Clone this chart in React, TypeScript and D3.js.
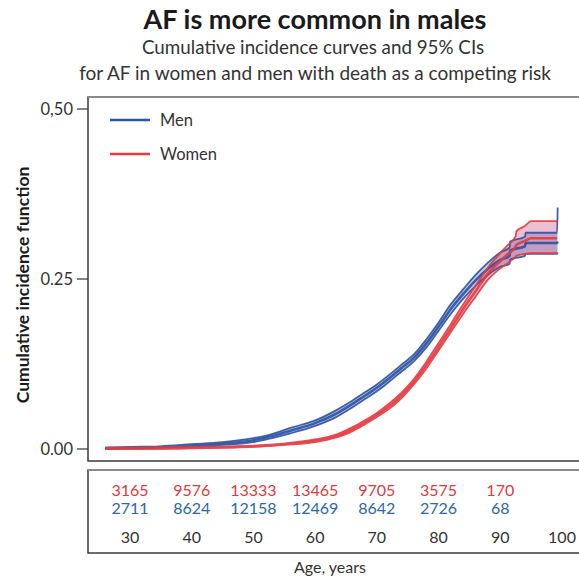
import React from 'react';
import * as d3 from 'd3';

// cumulative incidence, men
const menAge = [26, 30, 35, 40, 45, 50, 53, 56, 60, 63, 66, 68, 70, 72, 74, 76, 78, 80, 82, 84, 86, 88, 90, 91.5, 91.6, 94, 94.1, 99.2, 99.3];
const menCif = [0.001, 0.002, 0.003, 0.005, 0.008, 0.013, 0.019, 0.027, 0.038, 0.05, 0.066, 0.078, 0.09, 0.104, 0.119, 0.134, 0.155, 0.18, 0.206, 0.228, 0.248, 0.265, 0.278, 0.284, 0.292, 0.298, 0.303, 0.303, 0.305];
const menLow = [0.0, 0.001, 0.002, 0.003, 0.006, 0.01, 0.016, 0.023, 0.034, 0.045, 0.061, 0.073, 0.085, 0.099, 0.114, 0.129, 0.149, 0.174, 0.199, 0.221, 0.24, 0.256, 0.268, 0.272, 0.279, 0.284, 0.287, 0.287, 0.289];
const menHigh = [0.002, 0.003, 0.004, 0.007, 0.01, 0.016, 0.022, 0.031, 0.042, 0.055, 0.071, 0.083, 0.095, 0.109, 0.124, 0.139, 0.161, 0.186, 0.213, 0.235, 0.256, 0.274, 0.289, 0.296, 0.305, 0.312, 0.318, 0.318, 0.355];

// cumulative incidence, women
const womenAge = [26, 30, 40, 50, 55, 60, 63, 66, 68, 70, 72, 74, 76, 78, 80, 82, 84, 86, 88, 89.5, 91, 92.5, 92.6, 94, 95, 99.2];
const womenCif = [0.001, 0.001, 0.002, 0.004, 0.007, 0.012, 0.018, 0.029, 0.039, 0.05, 0.063, 0.079, 0.099, 0.123, 0.15, 0.178, 0.206, 0.232, 0.258, 0.272, 0.285, 0.298, 0.3, 0.306, 0.31, 0.31];
const womenLow = [0.0, 0.0, 0.001, 0.003, 0.006, 0.01, 0.016, 0.026, 0.036, 0.047, 0.059, 0.075, 0.095, 0.118, 0.145, 0.172, 0.199, 0.224, 0.249, 0.262, 0.272, 0.283, 0.284, 0.287, 0.288, 0.288];
const womenHigh = [0.002, 0.002, 0.003, 0.005, 0.008, 0.014, 0.02, 0.032, 0.042, 0.053, 0.067, 0.083, 0.103, 0.128, 0.156, 0.184, 0.213, 0.24, 0.267, 0.283, 0.298, 0.313, 0.32, 0.328, 0.335, 0.335];

// numbers at risk
const tableAges = [30, 40, 50, 60, 70, 80, 90, 100];
const womenAtRisk = ['3165', '9576', '13333', '13465', '9705', '3575', '170'];
const menAtRisk = ['2711', '8624', '12158', '12469', '8642', '2726', '68'];

const yTicks = [0, 0.25, 0.5];
const yTickLabels = ['0.00', '0.25', '0,50'];

const BLUE = '#2c52a3';
const RED = '#e63a3e';
const FONT = 'Lato, "Open Sans", sans-serif';

type Pt = { a: number; v: number; lo: number; hi: number };

export default function App() {
  const x = d3.scaleLinear().domain([30, 100]).range([130, 562]);
  const y = d3.scaleLinear().domain([0, 0.5]).range([449, 109]);

  const men: Pt[] = menAge.map((a, i) => ({ a, v: menCif[i], lo: menLow[i], hi: menHigh[i] }));
  const women: Pt[] = womenAge.map((a, i) => ({ a, v: womenCif[i], lo: womenLow[i], hi: womenHigh[i] }));

  const curve = d3.curveMonotoneX;
  const lineV = d3.line<Pt>().x((d) => x(d.a)).y((d) => y(d.v)).curve(curve);
  const lineLo = d3.line<Pt>().x((d) => x(d.a)).y((d) => y(d.lo)).curve(curve);
  const lineHi = d3.line<Pt>().x((d) => x(d.a)).y((d) => y(d.hi)).curve(curve);
  const band = d3.area<Pt>().x((d) => x(d.a)).y0((d) => y(d.lo)).y1((d) => y(d.hi)).curve(curve);

  const plotLeft = 88, plotTop = 97, plotBottom = 461, right = 600;
  const tabTop = 470, tabBottom = 553;

  const curveLines = (data: Pt[], color: string) => (
    <g fill="none" stroke={color} strokeLinejoin="round" opacity={0.9}>
      <path d={lineLo(data) || ''} strokeWidth={1.8} />
      <path d={lineHi(data) || ''} strokeWidth={1.8} />
      <path d={lineV(data) || ''} strokeWidth={2.6} />
    </g>
  );

  return (
    <svg width={579} height={579} style={{ position: 'absolute', left: 0, top: 0, background: '#fff' }} fontFamily={FONT}>
      {/* titles */}
      <text x={315} y={29} textAnchor="middle" fontSize={27} fontWeight="bold" fill="#1a1a1a">AF is more common in males</text>
      <text x={313} y={54} textAnchor="middle" fontSize={18.8} fill="#333">Cumulative incidence curves and 95% CIs</text>
      <text x={315} y={80} textAnchor="middle" fontSize={19} fill="#333">for AF in women and men with death as a competing risk</text>

      {/* plot frame */}
      <rect x={plotLeft} y={plotTop} width={right - plotLeft} height={plotBottom - plotTop} fill="#fff" stroke="#3a3a3a" strokeWidth={1.5} />
      <line x1={plotLeft} x2={right} y1={plotTop} y2={plotTop} stroke="#8a8a8a" strokeWidth={2} />

      {/* y axis */}
      <g fontSize={16.5} fill="#333">
        {yTicks.map((t, i) => (
          <g key={i}>
            <line x1={77} x2={plotLeft} y1={y(t)} y2={y(t)} stroke="#333" strokeWidth={1.2} />
            <text x={73} y={y(t)} dy="0.35em" textAnchor="end">{yTickLabels[i]}</text>
          </g>
        ))}
      </g>
      <text transform={`translate(29,${285}) rotate(-90)`} textAnchor="middle" fontSize={17.5} fontWeight="bold" fill="#1a1a1a">Cumulative incidence function</text>

      {/* CI bands */}
      <path d={band(men) || ''} fill={BLUE} fillOpacity={0.3} />
      <path d={band(women) || ''} fill="#c8487e" fillOpacity={0.35} />
      {curveLines(men, BLUE)}
      {curveLines(women, RED)}

      {/* legend */}
      <g fontSize={16.5} fill="#333">
        <line x1={110} x2={150} y1={120} y2={120} stroke={BLUE} strokeWidth={2.5} />
        <text x={160} y={120} dy="0.35em">Men</text>
        <line x1={110} x2={150} y1={154} y2={154} stroke={RED} strokeWidth={2.5} />
        <text x={160} y={154} dy="0.35em">Women</text>
      </g>

      {/* number at risk table */}
      <rect x={plotLeft} y={tabTop} width={right - plotLeft} height={tabBottom - tabTop} fill="#fff" stroke="#3a3a3a" strokeWidth={1.5} />
      <line x1={plotLeft} x2={right} y1={tabTop} y2={tabTop} stroke="#8a8a8a" strokeWidth={2} />
      <g fontSize={16} textAnchor="middle">
        {womenAtRisk.map((n, i) => (
          <text key={'w' + i} x={x(tableAges[i])} y={490} dy="0.35em" fill="#e03a40">{n}</text>
        ))}
        {menAtRisk.map((n, i) => (
          <text key={'m' + i} x={x(tableAges[i])} y={508} dy="0.35em" fill="#2a67ad">{n}</text>
        ))}
        {tableAges.map((a, i) => (
          <text key={'a' + i} x={x(a)} y={537} dy="0.35em" fill="#333">{a}</text>
        ))}
      </g>
      <text x={330} y={567} dy="0.35em" textAnchor="middle" fontSize={16} fill="#333">Age, years</text>
    </svg>
  );
}
